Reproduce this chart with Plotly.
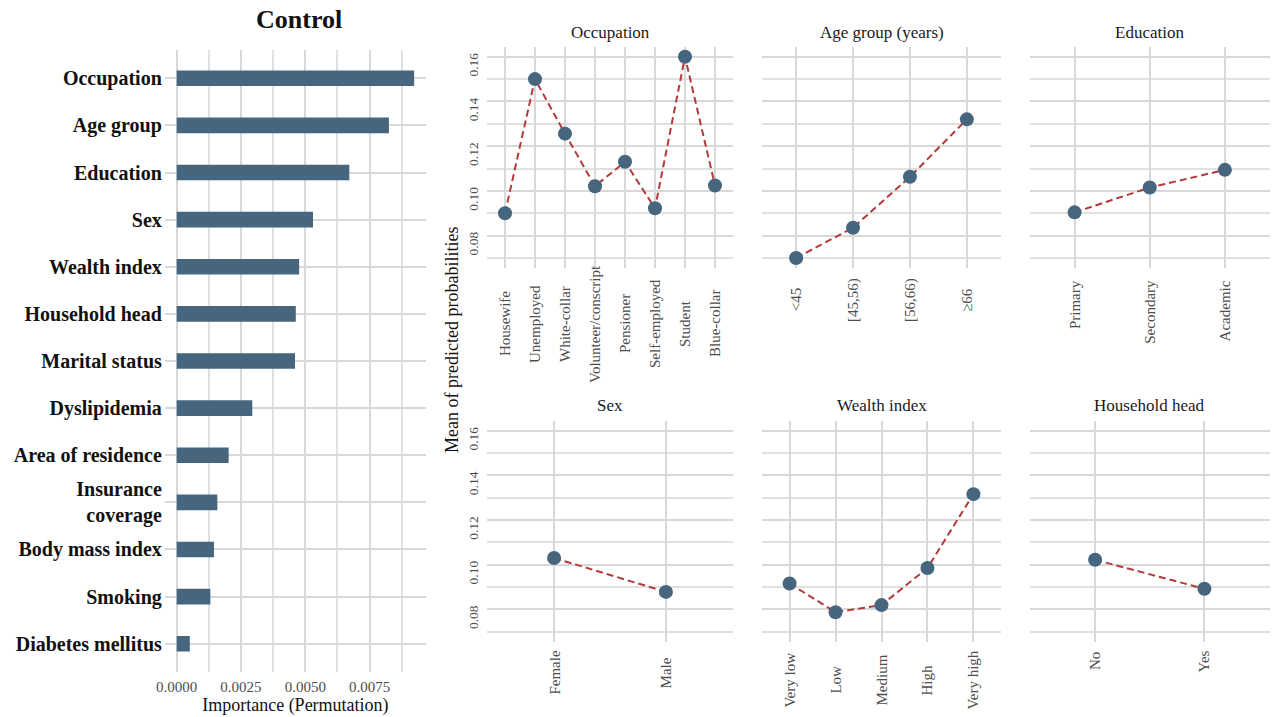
import plotly.graph_objects as go

W, H = 1288, 717
SERIF = "Liberation Serif"
BLUE = "#46667F"
RED = "#B33A3A"
GRID = "#D8D8D8"
MINOR = "#E0E0E0"
TICK = "#4D4D4D"

# ---- permutation importance (left panel) ----
features = ["Occupation", "Age group", "Education", "Sex", "Wealth index",
            "Household head", "Marital status", "Dyslipidemia",
            "Area of residence", "Insurance<br>coverage", "Body mass index",
            "Smoking", "Diabetes mellitus"]
importance = [0.00923, 0.00825, 0.00671, 0.00530, 0.00476, 0.00463, 0.00460,
              0.00294, 0.00202, 0.00158, 0.00145, 0.00131, 0.00051]

# ---- mean predicted probabilities by level (right panels) ----
occ_levels = ["Housewife", "Unemployed", "White-collar", "Volunteer/conscript",
              "Pensioner", "Self-employed", "Student", "Blue-collar"]
occ_prob = [0.0900, 0.1500, 0.1256, 0.1021, 0.1130, 0.0922, 0.1600, 0.1024]

age_levels = ["<45", "[45,56)", "[56,66)", "≥66"]
age_prob = [0.0700, 0.0835, 0.1063, 0.1320]

edu_levels = ["Primary", "Secondary", "Academic"]
edu_prob = [0.0904, 0.1015, 0.1094]

sex_levels = ["Female", "Male"]
sex_prob = [0.1030, 0.0878]

wealth_levels = ["Very low", "Low", "Medium", "High", "Very high"]
wealth_prob = [0.0916, 0.0787, 0.0819, 0.0985, 0.1316]

head_levels = ["No", "Yes"]
head_prob = [0.1022, 0.0892]


def px_x(p):
    return p / W


def px_y(p):
    return 1 - p / H


fig = go.Figure()
annotations = []

# ---------------- left: horizontal bars ----------------
fig.add_trace(go.Bar(
    x=importance, y=list(range(len(features))), orientation="h", width=0.33,
    marker=dict(color=BLUE, line=dict(width=0)), xaxis="x", yaxis="y",
    hoverinfo="skip"))

imax = max(importance)
fig.update_layout(
    xaxis=dict(domain=[px_x(164.8), px_x(426)],
               range=[-0.05 * imax, 1.05 * imax],
               tick0=0, dtick=0.0025, tickformat=".4f",
               showgrid=True, gridcolor=GRID, gridwidth=1.5,
               minor=dict(tick0=0, dtick=0.00125, showgrid=True,
                          gridcolor=MINOR, gridwidth=1.5),
               zeroline=False, showline=False, ticks="",
               ticklabelstandoff=4, automargin=False,
               tickfont=dict(family=SERIF, size=15, color=TICK),
               title=dict(text="Importance (Permutation)", standoff=2,
                          font=dict(family=SERIF, size=18, color="#111")),
               anchor="y", fixedrange=True),
    yaxis=dict(domain=[px_y(672), px_y(50)],
               range=[len(features) - 0.4, -0.6],
               tickmode="array", tickvals=list(range(len(features))),
               ticktext=features,
               showgrid=True, gridcolor=GRID, gridwidth=1.5,
               zeroline=False, showline=False, ticks="",
               ticklabelstandoff=2, automargin=False,
               tickfont=dict(family=SERIF, size=20, color="#111",
                             weight="bold"),
               anchor="x", fixedrange=True),
)

annotations.append(dict(
    text="<b>Control</b>", x=px_x(299), y=px_y(20), xref="paper",
    yref="paper", xanchor="center", yanchor="middle", showarrow=False,
    font=dict(family=SERIF, size=26, color="#111")))

# ---------------- right: faceted point/line panels ----------------
panels = [
    ("Occupation", occ_levels, occ_prob),
    ("Age group (years)", age_levels, age_prob),
    ("Education", edu_levels, edu_prob),
    ("Sex", sex_levels, sex_prob),
    ("Wealth index", wealth_levels, wealth_prob),
    ("Household head", head_levels, head_prob),
]
col_px = [(487, 733), (762, 1001), (1029.5, 1270)]
row_px = [(46.7, 268), (420.7, 641.7)]
strip_y = [33, 405]
# vertical placement of the rotated category labels: (pixel y, anchor)
label_pos = [(324, "middle"), (300, "middle"), (278, "top"),
             (672.5, "middle"), (680, "middle"), (661, "middle")]

all_prob = occ_prob + age_prob + edu_prob + sex_prob + wealth_prob + head_prob
pmin, pmax = min(all_prob), max(all_prob)
pad = 0.05 * (pmax - pmin)
yrange = [pmin - pad, pmax + pad]

for i, (title, levels, probs) in enumerate(panels):
    k = i + 2
    r, c = divmod(i, 3)
    xs = list(range(len(levels)))
    fig.add_trace(go.Scatter(
        x=xs, y=probs, mode="lines+markers",
        line=dict(color=RED, width=2, dash="7px,4px"),
        marker=dict(color=BLUE, size=14, line=dict(width=0)),
        xaxis=f"x{k}", yaxis=f"y{k}", hoverinfo="skip"))

    fig.update_layout(**{
        f"xaxis{k}": dict(
            domain=[px_x(col_px[c][0]), px_x(col_px[c][1])],
            range=[-0.6, len(levels) - 0.4],
            tickmode="array", tickvals=xs, showticklabels=False,
            showgrid=True, gridcolor=GRID, gridwidth=1.5,
            zeroline=False, showline=False, ticks="", automargin=False,
            anchor=f"y{k}", fixedrange=True),
        f"yaxis{k}": dict(
            domain=[px_y(row_px[r][1]), px_y(row_px[r][0])],
            range=yrange, tick0=0, dtick=0.02, tickformat=".2f",
            showticklabels=(c == 0), tickangle=-90,
            ticklabelshift=10, ticklabelstandoff=5, automargin=False,
            tickfont=dict(family=SERIF, size=13.5, color=TICK),
            showgrid=True, gridcolor=GRID, gridwidth=1.5,
            minor=dict(tick0=0, dtick=0.01, showgrid=True,
                       gridcolor=MINOR, gridwidth=1.5),
            zeroline=False, showline=False, ticks="",
            anchor=f"x{k}", fixedrange=True),
    })

    # facet strip title
    annotations.append(dict(
        text=title, x=px_x((col_px[c][0] + col_px[c][1]) / 2),
        y=px_y(strip_y[r]), xref="paper", yref="paper",
        xanchor="center", yanchor="middle", showarrow=False,
        font=dict(family=SERIF, size=17, color="#1a1a1a")))

    # rotated category labels under each panel
    ly, anchor = label_pos[i]
    for j, lev in enumerate(levels):
        annotations.append(dict(
            text=lev, x=j, xref=f"x{k}", y=px_y(ly), yref="paper",
            textangle=-90, xanchor="center", yanchor=anchor,
            showarrow=False,
            font=dict(family=SERIF, size=15, color=TICK)))

# shared y-axis title for the facet grid
annotations.append(dict(
    text="Mean of predicted probabilities", x=px_x(452), y=px_y(340),
    xref="paper", yref="paper", textangle=-90, xanchor="center",
    yanchor="middle", showarrow=False,
    font=dict(family=SERIF, size=18, color="#111")))

fig.update_layout(
    width=W, height=H, margin=dict(l=0, r=0, t=0, b=0),
    paper_bgcolor="white", plot_bgcolor="white",
    showlegend=False, annotations=annotations,
    font=dict(family=SERIF),
)

fig.write_html("out.html", config={"displayModeBar": False})
